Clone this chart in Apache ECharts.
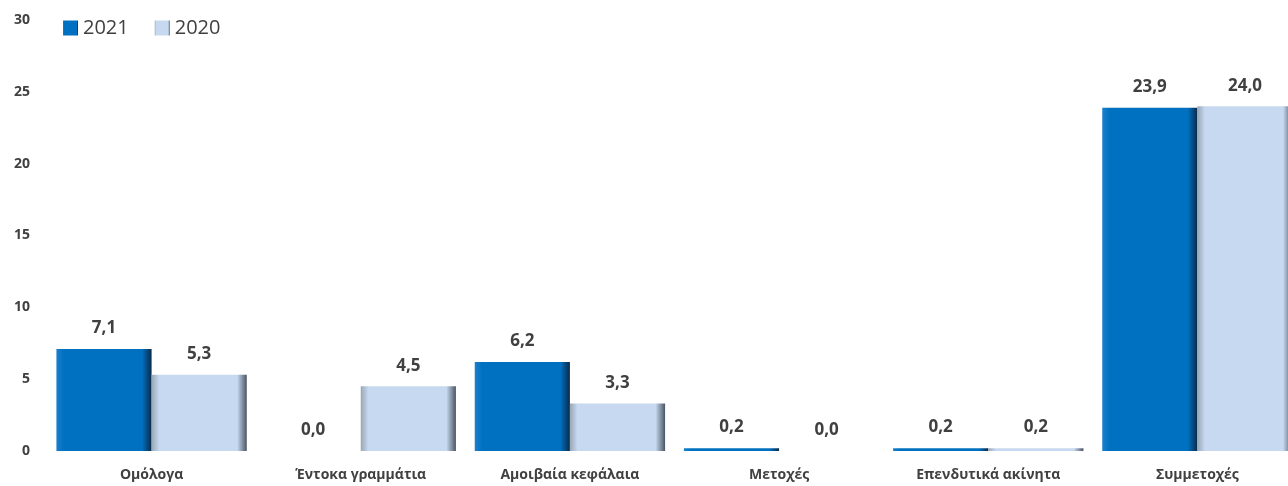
<!DOCTYPE html>
<html>
<head>
<meta charset="utf-8">
<script src="https://cdn.jsdelivr.net/npm/echarts@6/dist/echarts.min.js"></script>
<style>
  html, body { margin: 0; padding: 0; background: #fff; }
  #chart { width: 1288px; height: 486px; }
</style>
</head>
<body>
<div id="chart"></div>
<script>
var categories = ['Ομόλογα', 'Έντοκα γραμμάτια', 'Αμοιβαία κεφάλαια', 'Μετοχές', 'Επενδυτικά ακίνητα', 'Συμμετοχές'];
var values2021 = [7.1, 0.0, 6.2, 0.2, 0.2, 23.9];
var values2020 = [5.3, 4.5, 3.3, 0.0, 0.2, 24.0];
var yTicks = [0, 5, 10, 15, 20, 25, 30];

// bevel-like fill: dark edges, flat centre
function bevel(edge, mid, light) {
    return new echarts.graphic.LinearGradient(0, 0, 1, 0, [
        { offset: 0, color: light },
        { offset: 0.08, color: mid },
        { offset: 0.9, color: mid },
        { offset: 1, color: edge }
    ]);
}

var fmt = function (p) { return p.value.toFixed(1).replace('.', ','); };

var myChart = echarts.init(document.getElementById('chart'));
var option = {
    animation: false,
    textStyle: { fontFamily: 'Open Sans, Liberation Sans, sans-serif' },
    legend: {
        left: 58,
        top: 13,
        icon: 'rect',
        itemWidth: 15,
        itemHeight: 15,
        itemGap: 26,
        textStyle: { fontSize: 20, color: '#404040', fontFamily: 'Open Sans, sans-serif' },
        data: ['2021', '2020']
    },
    grid: { left: 47, width: 1255, top: 20, bottom: 35, outerBoundsMode: 'none', containLabel: false },
    xAxis: {
        type: 'category',
        data: categories,
        axisLine: { show: false },
        axisTick: { show: false },
        axisLabel: { fontSize: 14, fontWeight: 'bold', color: '#404040', margin: 17 }
    },
    yAxis: {
        type: 'value',
        min: 0,
        max: 30,
        interval: 5,
        splitLine: { show: false },
        axisLine: { show: false },
        axisLabel: {
            fontSize: 14, fontWeight: 'bold', color: '#404040', margin: 17,
            formatter: function (v) { return yTicks.indexOf(v) >= 0 ? String(v) : ''; }
        }
    },
    series: [
        {
            name: '2021',
            type: 'bar',
            data: values2021,
            barGap: '0%',
            barCategoryGap: '9%',
            itemStyle: {
                color: bevel('#0a2a4a', '#0070C0', '#1a80cc')
            },
            label: {
                show: true, position: 'top', distance: 12,
                fontSize: 17, fontWeight: 'bold', color: '#404040', formatter: fmt
            }
        },
        {
            name: '2020',
            type: 'bar',
            data: values2020,
            itemStyle: {
                color: bevel('#4a5563', '#C6D9F0', '#9aa6b4')
            },
            label: {
                show: true, position: 'top', distance: 12,
                fontSize: 17, fontWeight: 'bold', color: '#404040', formatter: fmt
            }
        }
    ]
};
myChart.setOption(option);
</script>
</body>
</html>
